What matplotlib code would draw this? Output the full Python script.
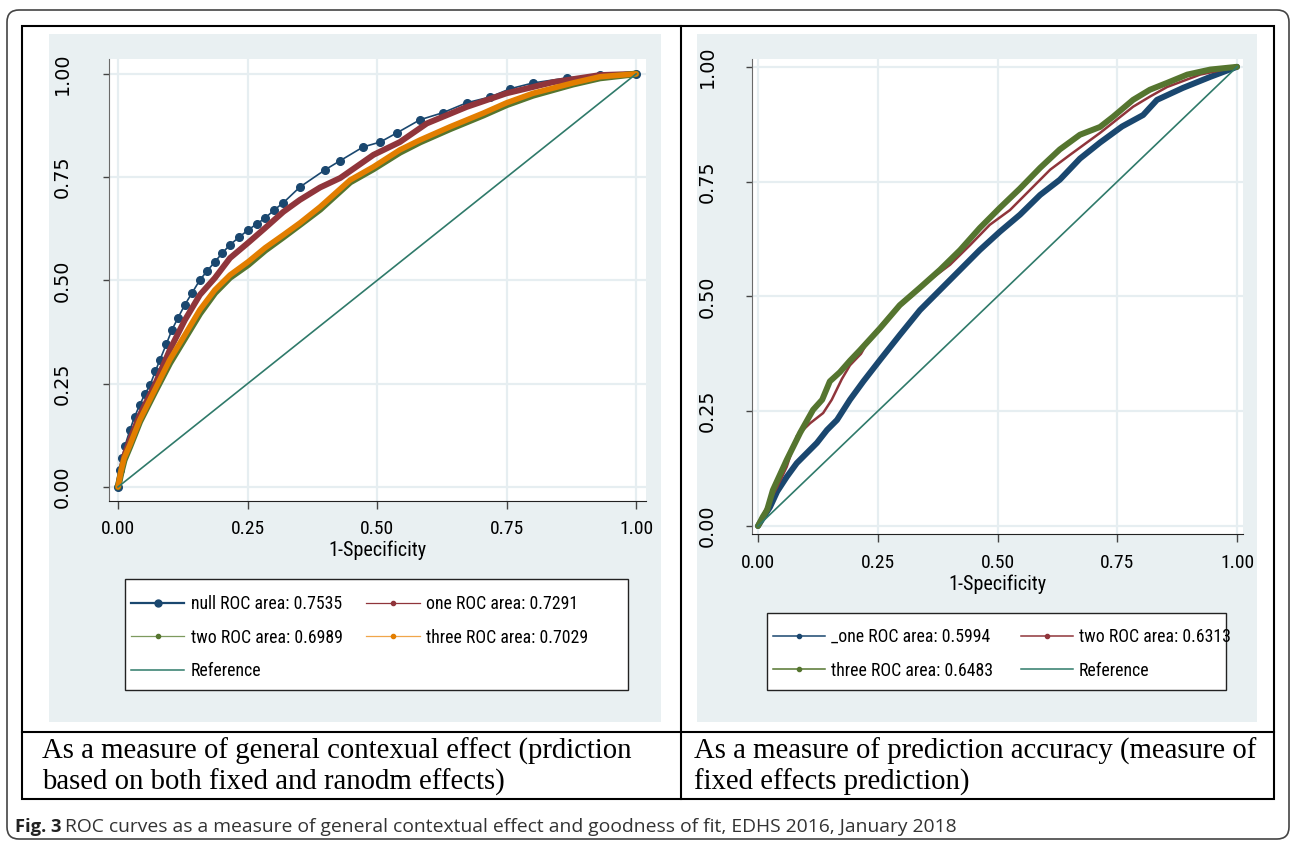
import matplotlib
matplotlib.use("Agg")
import matplotlib.pyplot as plt
from matplotlib import font_manager as fm
from matplotlib.lines import Line2D
from matplotlib.patches import Rectangle, FancyBboxPatch

W, H = 1292, 841

# --- left panel: general contextual effect ---
null_x = [0, 0.004, 0.008, 0.0135, 0.023, 0.032, 0.042, 0.052, 0.062, 0.072, 0.081, 0.093,
          0.104, 0.116, 0.129, 0.143, 0.158, 0.172, 0.187, 0.201, 0.216, 0.233, 0.251, 0.268,
          0.284, 0.301, 0.319, 0.351, 0.40, 0.429, 0.473, 0.506, 0.538, 0.583, 0.627, 0.673,
          0.718, 0.757, 0.801, 0.866, 0.93, 1.0]
null_y = [0, 0.04, 0.07, 0.10, 0.138, 0.17, 0.199, 0.225, 0.247, 0.28, 0.308, 0.345,
          0.380, 0.41, 0.441, 0.47, 0.501, 0.523, 0.545, 0.566, 0.586, 0.604, 0.622, 0.637,
          0.651, 0.670, 0.688, 0.726, 0.768, 0.79, 0.823, 0.835, 0.857, 0.889, 0.906, 0.93,
          0.944, 0.964, 0.978, 0.99, 0.997, 1.0]

one_x = [0, 0.006, 0.012, 0.023, 0.042, 0.071, 0.1, 0.129, 0.158, 0.187, 0.216, 0.251, 0.284,
         0.319, 0.351, 0.39, 0.429, 0.493, 0.544, 0.596, 0.673, 0.75, 0.84, 0.93, 1.0]
one_y = [0, 0.04, 0.075, 0.114, 0.174, 0.247, 0.332, 0.404, 0.465, 0.506, 0.554, 0.591, 0.627,
         0.666, 0.695, 0.725, 0.748, 0.804, 0.835, 0.88, 0.92, 0.953, 0.98, 0.997, 1.0]

two_x = [0, 0.006, 0.012, 0.023, 0.042, 0.071, 0.1, 0.129, 0.158, 0.187, 0.216, 0.251, 0.284,
         0.319, 0.351, 0.39, 0.448, 0.493, 0.544, 0.583, 0.641, 0.705, 0.75, 0.801, 0.878, 0.93, 1.0]
two_y = [0, 0.035, 0.065, 0.098, 0.158, 0.23, 0.30, 0.36, 0.42, 0.47, 0.507, 0.538, 0.573,
         0.605, 0.635, 0.672, 0.738, 0.77, 0.81, 0.835, 0.867, 0.90, 0.925, 0.948, 0.975, 0.99, 1.0]

three_x = [0, 0.006, 0.012, 0.023, 0.042, 0.071, 0.1, 0.129, 0.158, 0.187, 0.216, 0.251, 0.284,
           0.319, 0.351, 0.39, 0.448, 0.493, 0.544, 0.583, 0.641, 0.705, 0.75, 0.801, 0.878, 0.93, 1.0]
three_y = [0, 0.04, 0.07, 0.102, 0.162, 0.235, 0.308, 0.368, 0.429, 0.477, 0.513, 0.545, 0.579,
           0.61, 0.639, 0.678, 0.743, 0.775, 0.816, 0.84, 0.872, 0.905, 0.93, 0.953, 0.978, 0.993, 1.0]

left_labels = ["null ROC area: 0.7535", "one ROC area: 0.7291",
               "two ROC area: 0.6989", "three ROC area: 0.7029", "Reference"]

# --- right panel: prediction accuracy ---
r_one_x = [0, 0.012, 0.025, 0.04, 0.06, 0.081, 0.102, 0.123, 0.144, 0.165, 0.192, 0.22, 0.255,
           0.296, 0.338, 0.38, 0.422, 0.463, 0.505, 0.547, 0.589, 0.63, 0.672, 0.714, 0.76,
           0.804, 0.833, 0.887, 0.944, 1.0]
r_one_y = [0, 0.02, 0.041, 0.075, 0.107, 0.137, 0.159, 0.181, 0.209, 0.231, 0.275, 0.315, 0.362,
           0.416, 0.47, 0.514, 0.558, 0.601, 0.641, 0.678, 0.721, 0.754, 0.80, 0.835, 0.87,
           0.895, 0.928, 0.954, 0.978, 1.0]

r_two_x = [0, 0.015, 0.04, 0.06, 0.081, 0.109, 0.136, 0.154, 0.175, 0.192, 0.215, 0.234, 0.276,
           0.317, 0.359, 0.401, 0.443, 0.484, 0.526, 0.568, 0.61, 0.651, 0.714, 0.783, 0.818,
           0.854, 0.923, 1.0]
r_two_y = [0, 0.035, 0.085, 0.129, 0.196, 0.224, 0.246, 0.275, 0.32, 0.35, 0.375, 0.41, 0.46,
           0.497, 0.536, 0.569, 0.612, 0.656, 0.688, 0.732, 0.776, 0.808, 0.856, 0.913, 0.935,
           0.956, 0.983, 1.0]

r_three_x = [0, 0.01, 0.019, 0.031, 0.06, 0.088, 0.115, 0.134, 0.15, 0.171, 0.192, 0.213, 0.255,
             0.296, 0.338, 0.38, 0.422, 0.463, 0.505, 0.547, 0.589, 0.63, 0.672, 0.714, 0.741,
             0.783, 0.818, 0.854, 0.896, 0.944, 1.0]
r_three_y = [0, 0.02, 0.035, 0.078, 0.144, 0.203, 0.253, 0.275, 0.315, 0.335, 0.36, 0.383, 0.431,
             0.481, 0.519, 0.558, 0.601, 0.649, 0.693, 0.735, 0.78, 0.82, 0.852, 0.869, 0.891,
             0.928, 0.95, 0.965, 0.983, 0.994, 1.0]

right_labels = ["_one ROC area: 0.5994", "two ROC area: 0.6313",
                "three ROC area: 0.6483", "Reference"]

ticks = [0, 0.25, 0.5, 0.75, 1.0]
tick_labels = ["0.00", "0.25", "0.50", "0.75", "1.00"]
ref_line = [0, 1]

left_caption = "As a measure of general contexual effect (prdiction\nbased on both fixed and ranodm effects)"
right_caption = "As a measure of prediction accuracy (measure of\nfixed effects prediction)"
fig_caption = "ROC curves as a measure of general contextual effect and goodness of fit, EDHS 2016, January 2018"

NAVY, MAROON, GREEN, ORANGE, TEAL = "#1a476f", "#90353b", "#55752f", "#e37e00", "#2f7a6a"
PANEL_BG = "#e9f0f2"
GRID = "#e6eef1"


def narrow_font():
    """Stata graphs use a condensed sans; take one if the box has it, else shrink Liberation Sans."""
    fonts = fm.fontManager.ttflist
    names = {f.name for f in fonts}
    for n in ("Liberation Sans Narrow", "Arial Narrow", "Roboto Condensed",
              "Open Sans Condensed", "Noto Sans Condensed", "DejaVu Sans Condensed"):
        if n in names:
            return {"family": n}, 1.0
    for f in fonts:
        if f.name in ("DejaVu Sans", "Noto Sans", "Roboto", "Open Sans") and \
                "condensed" in str(f.stretch) and "semi" not in str(f.stretch):
            return {"family": f.name, "stretch": "condensed"}, 0.97
    return {"family": "Liberation Sans"}, 0.8


NARROW, SCALE = narrow_font()


def fp(size):
    return fm.FontProperties(size=size * SCALE, **NARROW)


def px_axes(fig, x0, y0, x1, y1):
    return fig.add_axes([x0 / W, 1 - y1 / H, (x1 - x0) / W, (y1 - y0) / H])


def roc_axes(fig, box, xlim, ylim, ypad, xpad, lpad):
    ax = px_axes(fig, *box)
    ax.set_facecolor("white")
    ax.set_xlim(*xlim)
    ax.set_ylim(*ylim)
    ax.set_xticks(ticks)
    ax.set_yticks(ticks)
    ax.set_xticklabels(tick_labels, fontproperties=fp(14))
    ax.set_yticklabels(tick_labels, family="DejaVu Sans", fontsize=13.8, rotation=90, va="center")
    ax.grid(True, color=GRID, lw=1.6)
    ax.set_axisbelow(True)
    for s in ("top", "right"):
        ax.spines[s].set_visible(False)
    ax.spines["left"].set_color("#6a6a6a")
    ax.spines["bottom"].set_color("#222222")
    ax.tick_params(axis="y", length=4.5, width=1, color="#444", pad=ypad)
    ax.tick_params(axis="x", length=5.5, width=1, color="#444", pad=xpad)
    ax.set_xlabel("1-Specificity", fontproperties=fp(14.5), labelpad=lpad)
    return ax


fig = plt.figure(figsize=(W / 100, H / 100), dpi=100)
fig.patch.set_facecolor("white")

# page furniture: rounded border, table, panel backgrounds, legend frames
bg = fig.add_axes([0, 0, 1, 1], zorder=-5)
bg.set_xlim(0, W)
bg.set_ylim(H, 0)
bg.axis("off")
bg.add_patch(FancyBboxPatch((7, 10), 1282, 829, boxstyle="round,pad=0,rounding_size=12",
                            fill=False, ec="#444444", lw=1.2))
bg.add_patch(Rectangle((49, 34), 612, 688, fc=PANEL_BG, ec="none"))
bg.add_patch(Rectangle((697, 34), 560, 688, fc=PANEL_BG, ec="none"))
bg.add_patch(Rectangle((22, 26), 1252, 773, fill=False, ec="black", lw=1.5))
bg.plot([681, 681], [26, 799], color="black", lw=1.5)
bg.plot([22, 1274], [732, 732], color="black", lw=1.5)
bg.add_patch(Rectangle((125, 579), 503, 111, fc="white", ec="#222", lw=1))
bg.add_patch(Rectangle((767, 613), 459, 77, fc="white", ec="#222", lw=1))

bg.text(42, 767, left_caption, family="Liberation Serif", fontsize=20.7, va="center",
        ha="left", linespacing=1.18, color="black")
bg.text(694, 767, right_caption, family="Liberation Serif", fontsize=20.7, va="center",
        ha="left", linespacing=1.18, color="black")
bg.text(15, 827, "Fig. 3", family="Open Sans", fontsize=13.2, weight="bold", va="center",
        color="#222")
bg.text(65, 827, fig_caption, family="Open Sans", fontsize=13.9, va="center", color="#333")

# left ROC plot
axl = roc_axes(fig, (109, 59, 646, 501), (-0.0174, 1.019), (-0.034, 1.036),
               ypad=22, xpad=8, lpad=2)
axl.plot(null_x, null_y, color=NAVY, lw=1.2, marker="o", ms=5.5, zorder=3)
axl.plot(one_x, one_y, color=MAROON, lw=4.3, solid_capstyle="round", zorder=3)
axl.plot(two_x, two_y, color=GREEN, lw=4.8, solid_capstyle="round", zorder=3)
axl.plot(three_x, three_y, color=ORANGE, lw=4.0, solid_capstyle="round", zorder=3)
axl.plot(ref_line, ref_line, color=TEAL, lw=1.2, zorder=3)

left_handles = [
    Line2D([], [], color=NAVY, lw=1.6, marker="o", ms=5),
    Line2D([], [], color=MAROON, lw=0.9, marker="o", ms=3),
    Line2D([], [], color="#7d9a5e", lw=0.9, marker="o", ms=3, mfc=GREEN, mec=GREEN),
    Line2D([], [], color="#f0a64a", lw=0.9, marker="o", ms=3, mfc=ORANGE, mec=ORANGE),
    Line2D([], [], color=TEAL, lw=1.1),
]
order = [0, 2, 4, 1, 3]
axl.legend([left_handles[i] for i in order], [left_labels[i] for i in order], ncol=2,
           loc="upper left", bbox_to_anchor=(131 / W, 1 - 595 / H),
           bbox_transform=fig.transFigure, frameon=False, borderpad=0,
           borderaxespad=0, handlelength=3.0, handletextpad=0.35, columnspacing=1.35,
           labelspacing=0.88, prop=fp(12.8))

# right ROC plot
axr = roc_axes(fig, (752, 59, 1243, 534), (-0.0125, 1.0125), (-0.0174, 1.017),
               ypad=21, xpad=9, lpad=2)
axr.plot(r_one_x, r_one_y, color=NAVY, lw=4.3, solid_capstyle="round", zorder=3)
axr.plot(r_two_x, r_two_y, color=MAROON, lw=1.8, zorder=3)
axr.plot(r_three_x, r_three_y, color=GREEN, lw=4.3, solid_capstyle="round", zorder=3)
axr.plot(ref_line, ref_line, color=TEAL, lw=1.2, zorder=3)

right_handles = [
    Line2D([], [], color=NAVY, lw=1.1, marker="o", ms=3),
    Line2D([], [], color=MAROON, lw=1.1, marker="o", ms=3),
    Line2D([], [], color=GREEN, lw=1.1, marker="o", ms=3),
    Line2D([], [], color=TEAL, lw=1.1),
]
order = [0, 2, 1, 3]
axr.legend([right_handles[i] for i in order], [right_labels[i] for i in order], ncol=2,
           loc="upper left", bbox_to_anchor=(773 / W, 1 - 628 / H),
           bbox_transform=fig.transFigure, frameon=False, borderpad=0,
           borderaxespad=0, handlelength=2.9, handletextpad=0.35, columnspacing=1.6,
           labelspacing=0.88, prop=fp(12.8))

fig.savefig("out.png", dpi=100)
